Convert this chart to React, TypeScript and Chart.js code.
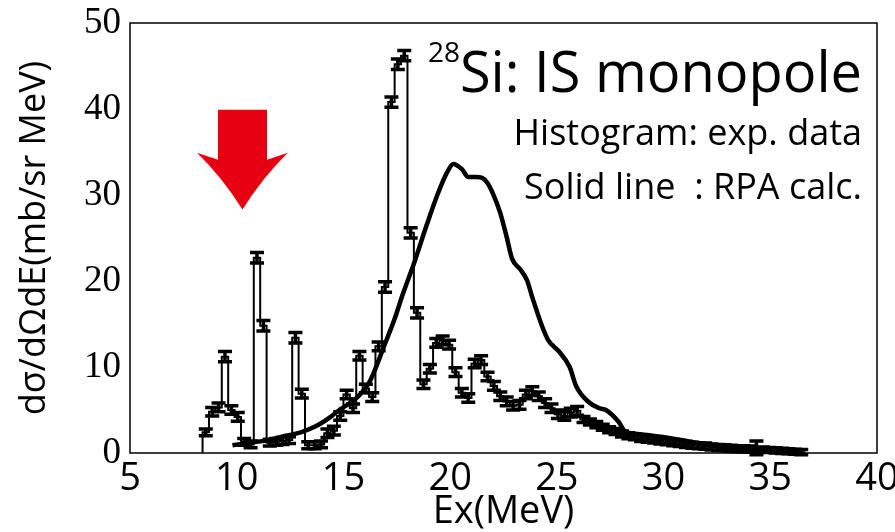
import { useEffect, useRef } from "react";
import { Chart, registerables } from "chart.js";

Chart.register(...registerables);

// Measured spectrum: uniform bins starting at BIN_START (MeV)
const BIN_START = 8.4;
const BIN_WIDTH = 0.3;

const expCounts = [
  2.4, 4.8, 5.3, 11.2, 5.0, 4.2, 1.3, 1.0, 22.7, 14.8,
  1.2, 1.3, 1.4, 1.5, 13.4, 6.9, 0.9, 0.9, 1.0, 2.3,
  2.6, 4.3, 6.8, 5.2, 11.3, 7.5, 6.5, 12.4, 19.3, 40.8,
  45.2, 46.2, 25.6, 16.3, 8.0, 9.8, 12.8, 13.1, 12.6, 9.4,
  7.0, 6.4, 10.4, 10.8, 8.9, 7.8, 6.6, 6.0, 5.5, 5.6,
  6.8, 7.2, 6.6, 5.8, 5.2, 4.5, 4.3, 4.7, 4.9, 3.9,
  3.6, 3.3, 3.0, 2.7, 2.5, 2.2, 2.0, 1.9, 1.7, 1.6,
  1.5, 1.4, 1.3, 1.2, 1.1, 1.0, 0.9, 0.85, 0.8, 0.7,
  0.65, 0.6, 0.55, 0.5, 0.5, 0.45, 0.6, 0.4, 0.35, 0.3,
  0.25, 0.2, 0.15, 0.1,
];

const expErrors = [
  0.4, 0.5, 0.5, 0.6, 0.5, 0.5, 0.4, 0.4, 0.6, 0.6,
  0.4, 0.4, 0.4, 0.4, 0.6, 0.5, 0.4, 0.4, 0.4, 0.5,
  0.5, 0.5, 0.5, 0.5, 0.5, 0.5, 0.5, 0.5, 0.6, 0.6,
  0.6, 0.6, 0.6, 0.6, 0.5, 0.5, 0.5, 0.5, 0.5, 0.5,
  0.5, 0.5, 0.5, 0.5, 0.5, 0.5, 0.5, 0.5, 0.5, 0.5,
  0.5, 0.5, 0.5, 0.5, 0.5, 0.5, 0.5, 0.5, 0.5, 0.35,
  0.35, 0.35, 0.35, 0.35, 0.35, 0.35, 0.35, 0.35, 0.35, 0.35,
  0.35, 0.35, 0.35, 0.35, 0.35, 0.35, 0.35, 0.35, 0.35, 0.35,
  0.35, 0.35, 0.35, 0.35, 0.35, 0.35, 0.8, 0.3, 0.3, 0.3,
  0.3, 0.3, 0.3, 0.3,
];

// RPA strength function
const rpaEnergy = [
  9.8, 10.6, 11.5, 12.3, 13.0, 13.7, 14.4, 14.8, 15.3, 15.7,
  16.25, 16.9, 17.4, 17.8, 18.3, 18.9, 19.4, 19.85, 20.15, 20.55,
  20.85, 21.2, 21.5, 21.75, 22.0, 22.35, 22.65, 22.9, 23.3, 23.6,
  23.85, 24.3, 24.6, 25.1, 25.6, 25.9, 26.5, 27.0, 27.3, 27.9,
  28.2, 28.8, 30.1, 31.5, 33.0, 34.9, 36.3,
];
const rpaValues = [
  0.9, 1.2, 1.5, 2.0, 2.4, 3.1, 4.2, 5.0, 5.8, 6.6,
  8.4, 12.4, 15.6, 18.6, 22.0, 26.5, 30.0, 32.6, 33.6, 33.0,
  32.1, 32.1, 32.0, 31.4, 30.2, 27.9, 25.1, 22.6, 21.3, 20.1,
  18.1, 14.8, 13.1, 11.8, 10.0, 7.8, 5.9, 5.2, 5.0, 3.6,
  2.5, 2.2, 1.8, 1.2, 0.6, 0.15, 0.0,
];

const xTicks = [5, 10, 15, 20, 25, 30, 35, 40];
const yTicks = [0, 10, 20, 30, 40, 50];

// Red marker arrow, in data units (MeV / cross-section)
const ARROW_X = 10.27;
const ARROW_TOP = 39.9;
const ARROW_NECK = 34.1;
const ARROW_WING = 34.9;
const ARROW_TIP = 28.3;
const ARROW_SHAFT_HALF = 1.15;
const ARROW_HEAD_HALF = 2.13;

const SANS = "'Open Sans', 'Noto Sans', sans-serif";

function histogramOutline() {
  const pts: { x: number; y: number }[] = [{ x: BIN_START, y: 0 }];
  expCounts.forEach((v, i) => {
    const lo = BIN_START + i * BIN_WIDTH;
    pts.push({ x: lo, y: v }, { x: lo + BIN_WIDTH, y: v });
  });
  pts.push({ x: BIN_START + expCounts.length * BIN_WIDTH, y: 0 });
  return pts;
}

const overlay = {
  id: "overlay",
  afterDatasetsDraw(chart: any) {
    const { ctx, chartArea, scales } = chart;
    const xs = scales.x;
    const ys = scales.y;
    ctx.save();
    // error bars
    ctx.strokeStyle = "#000";
    ctx.lineWidth = 3.5;
    expCounts.forEach((v, i) => {
      const e = expErrors[i];
      const cx = xs.getPixelForValue(BIN_START + (i + 0.5) * BIN_WIDTH);
      const y1 = ys.getPixelForValue(v - e);
      const y2 = ys.getPixelForValue(v + e);
      ctx.beginPath();
      ctx.moveTo(cx, y1);
      ctx.lineTo(cx, y2);
      ctx.moveTo(cx - 7, y1);
      ctx.lineTo(cx + 7, y1);
      ctx.moveTo(cx - 7, y2);
      ctx.lineTo(cx + 7, y2);
      ctx.stroke();
    });
    // frame
    ctx.lineWidth = 1.5;
    ctx.strokeRect(chartArea.left, chartArea.top, chartArea.right - chartArea.left, chartArea.bottom - chartArea.top);
    ctx.restore();
  },
  afterDraw(chart: any) {
    const { ctx, chartArea, scales } = chart;
    const xs = scales.x;
    const ys = scales.y;
    ctx.save();
    // arrow
    const px = (v: number) => xs.getPixelForValue(v);
    const py = (v: number) => ys.getPixelForValue(v);
    const sL = px(ARROW_X - ARROW_SHAFT_HALF);
    const sR = px(ARROW_X + ARROW_SHAFT_HALF);
    const hL = px(ARROW_X - ARROW_HEAD_HALF);
    const hR = px(ARROW_X + ARROW_HEAD_HALF);
    const tx = px(ARROW_X);
    const tTop = py(ARROW_TOP);
    const tNeck = py(ARROW_NECK);
    const tWing = py(ARROW_WING);
    const tTip = py(ARROW_TIP);
    ctx.fillStyle = "#e60012";
    ctx.beginPath();
    ctx.moveTo(sL, tTop);
    ctx.lineTo(sR, tTop);
    ctx.lineTo(sR, tNeck);
    ctx.lineTo(hR, tWing);
    ctx.quadraticCurveTo(tx + (hR - tx) * 0.45, tNeck + (tTip - tNeck) * 0.35, tx, tTip);
    ctx.quadraticCurveTo(tx - (tx - hL) * 0.45, tNeck + (tTip - tNeck) * 0.35, hL, tWing);
    ctx.lineTo(sL, tNeck);
    ctx.closePath();
    ctx.fill();

    // title and key
    const right = chartArea.right - 15;
    ctx.fillStyle = "#000";
    ctx.textAlign = "right";
    ctx.textBaseline = "alphabetic";
    ctx.font = `56px ${SANS}`;
    const main = "Si: IS monopole";
    ctx.fillText(main, right, chartArea.top + 69);
    const w = ctx.measureText(main).width;
    ctx.font = `28px ${SANS}`;
    ctx.fillText("28", right - w, chartArea.top + 39);
    ctx.font = `36px ${SANS}`;
    ctx.fillText("Histogram: exp. data", right, chartArea.top + 122);
    ctx.fillText("Solid line  : RPA calc.", right, chartArea.top + 176);
    ctx.restore();
  },
};

export default function App() {
  const ref = useRef<HTMLCanvasElement | null>(null);

  useEffect(() => {
    document.body.style.margin = "0";
    const canvas = ref.current;
    if (!canvas) return;
    const chart = new Chart(canvas, {
      type: "line",
      data: {
        datasets: [
          {
            label: "RPA calc.",
            data: rpaEnergy.map((e, i) => ({ x: e, y: rpaValues[i] })),
            borderColor: "#000",
            borderWidth: 4.5,
            pointRadius: 0,
            cubicInterpolationMode: "monotone",
            fill: false,
          },
          {
            label: "exp. data",
            data: histogramOutline(),
            borderColor: "#000",
            borderWidth: 2,
            pointRadius: 0,
            tension: 0,
            fill: false,
          },
        ],
      },
      options: {
        animation: false,
        responsive: false,
        devicePixelRatio: 1,
        layout: { padding: { top: 23, right: 18, left: 0, bottom: 0 } },
        plugins: { legend: { display: false }, tooltip: { enabled: false } },
        scales: {
          x: {
            type: "linear",
            min: 5,
            max: 40,
            grid: { display: false, drawTicks: false },
            border: { display: false },
            afterBuildTicks: (s: any) => {
              s.ticks = xTicks.map((v) => ({ value: v }));
            },
            afterFit: (s: any) => {
              s.height = 79;
              s.paddingLeft = 0;
              s.paddingRight = 0;
            },
            ticks: {
              color: "#000",
              padding: 3,
              maxRotation: 0,
              autoSkip: false,
              font: { family: SANS, size: 38 },
            },
            title: {
              display: true,
              text: "Ex(MeV)",
              color: "#000",
              padding: { top: 0, bottom: -3 },
              font: { family: SANS, size: 38 },
            },
          },
          y: {
            min: 0,
            max: 50,
            grid: { display: false, drawTicks: false },
            border: { display: false },
            afterBuildTicks: (s: any) => {
              s.ticks = yTicks.map((v) => ({ value: v }));
            },
            afterFit: (s: any) => {
              s.width = 130;
              s.paddingTop = 0;
              s.paddingBottom = 0;
            },
            ticks: {
              color: "#000",
              padding: 9,
              font: { family: "'Liberation Serif', serif", size: 37 },
            },
            title: {
              display: true,
              text: "dσ/dΩdE(mb/sr MeV)",
              color: "#000",
              padding: { top: 13, bottom: 0 },
              font: { family: SANS, size: 36 },
            },
          },
        },
      },
      plugins: [overlay],
    });
    return () => chart.destroy();
  }, []);

  return <canvas ref={ref} width={895} height={532} style={{ display: "block" }} />;
}
